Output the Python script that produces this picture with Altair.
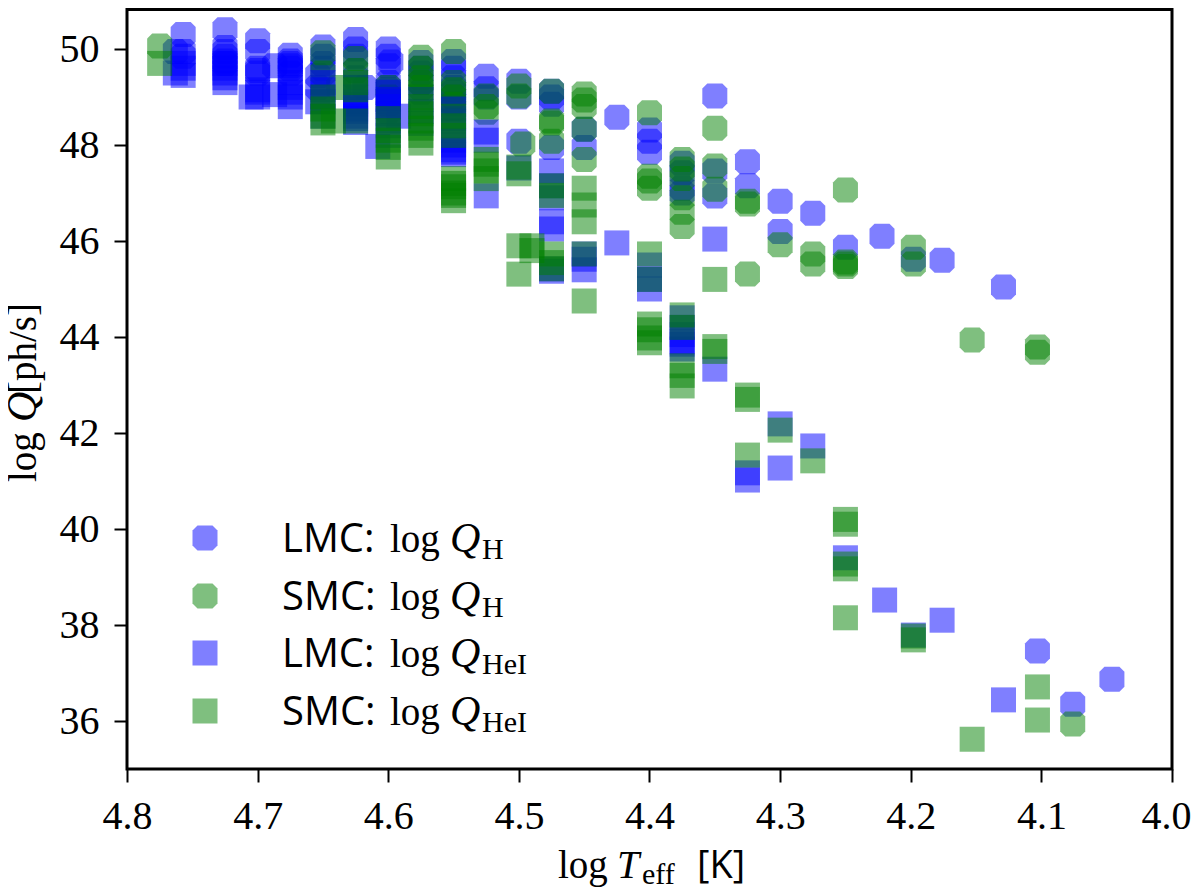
import altair as alt
import pandas as pd

# LMC log Q_H : (logT, logQ)
lmc_h_t = [4.757,4.757,4.757,4.763,4.725,4.725,4.725,4.725,4.725,4.725,4.70,4.70,4.70,4.70,4.70,4.675,4.675,4.675,4.675,4.675,4.675,4.687,
           4.65,4.65,4.65,4.65,4.654,4.654,4.625,4.625,4.625,4.625,4.625,4.618,4.60,4.60,4.598,4.60,4.60,4.60,4.60,4.60,4.60,
           4.575,4.575,4.575,4.575,4.575,4.55,4.55,4.55,4.55,4.55,4.55,4.55,4.525,4.525,4.525,4.50,4.50,4.50,
           4.475,4.475,4.475,4.475,4.45,4.45,4.425,4.40,4.40,4.40,4.375,4.375,4.375,4.375,
           4.35,4.35,4.35,4.325,4.325,4.30,4.30,4.275,4.25,4.222,4.198,4.176,4.129,4.103,4.076,4.046]
lmc_h_q = [50.3,49.85,49.95,49.95,50.4,50.03,49.85,49.7,49.95,49.75,50.17,49.95,49.55,49.5,49.6,49.87,49.75,49.65,49.5,49.7,49.6,49.65,
           50.04,49.85,49.7,49.6,49.45,49.2,50.2,50.0,49.85,49.55,49.4,49.2,50.0,49.85,49.73,49.2,49.0,48.85,49.65,49.3,49.15,
           49.72,49.5,49.3,49.6,49.1,49.74,49.4,49.2,49.1,48.9,49.6,49.0,49.43,49.17,49.0,49.33,49.0,48.08,
           49.12,49.0,48.85,47.95,48.33,47.95,48.58,48.31,48.08,47.85,47.62,47.42,47.1,47.0,
           49.02,47.46,46.94,47.65,47.15,46.83,46.2,46.58,45.87,46.1,45.62,45.6,45.04,37.46,36.35,36.87]

# SMC log Q_H
smc_h_t = [4.775,4.65,4.638,4.65,4.625,4.625,4.625,4.60,4.60,4.60,4.575,4.575,4.575,4.575,4.575,
           4.55,4.55,4.55,4.55,4.55,4.55,4.525,4.525,4.525,4.50,4.50,4.497,4.475,4.475,4.475,4.475,
           4.45,4.45,4.45,4.45,4.45,4.40,4.40,4.40,4.40,4.375,4.375,4.375,4.375,4.375,4.375,
           4.35,4.35,4.35,4.325,4.325,4.325,4.30,4.275,4.275,4.25,4.25,4.25,4.25,
           4.198,4.198,4.153,4.103,4.103,4.076]
smc_h_q = [50.06,49.92,49.2,49.5,49.8,49.55,49.2,49.2,49.0,48.7,49.83,49.6,49.4,49.3,49.2,
           49.95,49.3,49.15,49.0,48.85,48.75,49.02,48.8,48.68,49.23,49.02,48.02,49.12,48.5,48.46,48.08,
           49.06,48.94,48.8,48.33,47.7,48.67,47.35,47.25,47.1,47.7,47.5,47.3,46.9,46.6,46.3,
           48.35,47.56,47.08,46.83,46.77,45.31,45.92,45.73,45.52,47.06,45.56,45.52,45.47,
           45.87,45.52,43.94,43.79,43.68,35.94]

# LMC log Q_HeI
lmc_he_t = [4.763,4.757,4.757,4.757,4.725,4.725,4.725,4.725,4.725,4.70,4.705,4.70,4.70,4.675,4.675,4.675,4.675,4.675,4.687,4.654,4.65,4.65,4.65,4.65,4.65,
            4.625,4.625,4.625,4.625,4.625,4.625,4.625,4.625,4.625,4.60,4.60,4.60,4.60,4.60,4.60,4.60,4.60,4.592,4.608,4.575,4.575,4.575,
            4.55,4.55,4.55,4.55,4.55,4.55,4.55,4.55,4.55,4.525,4.525,4.525,4.50,
            4.475,4.475,4.475,4.475,4.475,4.475,4.475,4.45,4.45,4.45,4.425,
            4.40,4.40,4.40,4.375,4.375,4.375,4.375,4.375,4.375,4.35,4.35,4.325,4.325,
            4.30,4.30,4.275,4.25,4.22,4.198,4.176,4.129]
lmc_he_q = [49.5,49.45,49.6,49.7,49.6,49.4,49.3,49.5,49.7,49.1,49.0,49.0,49.15,49.2,49.0,48.8,49.3,49.1,49.05,48.9,49.0,48.6,49.3,49.15,48.9,
            49.0,48.85,48.7,48.47,49.2,48.9,48.75,48.6,48.55,48.95,48.5,48.2,49.1,48.9,48.8,48.65,48.4,48.6,47.97,48.95,48.7,48.45,
            48.75,48.55,48.3,48.1,47.9,47.8,48.5,48.0,47.85,48.27,48.1,46.94,47.52,
            47.46,47.15,46.9,46.4,46.25,45.42,45.37,45.73,45.62,45.4,45.96,
            45.5,45.2,45.0,44.4,44.2,44.05,43.9,43.85,43.75,46.04,43.33,41.17,41.02,
            42.19,41.27,41.73,39.4,38.52,37.79,38.1,36.44]

# SMC log Q_HeI
smc_he_t = [4.775,4.65,4.65,4.65,4.65,4.642,4.625,4.625,4.625,4.60,4.60,4.60,4.60,4.60,
            4.575,4.575,4.575,4.575,4.575,4.575,4.575,4.55,4.55,4.55,4.55,4.55,4.55,4.55,4.55,4.55,
            4.525,4.525,4.525,4.525,4.50,4.50,4.50,4.50,4.49,4.49,
            4.475,4.475,4.475,4.475,4.475,4.45,4.45,4.45,4.45,4.45,
            4.40,4.40,4.40,4.40,4.40,4.40,4.375,4.375,4.375,4.375,4.375,
            4.35,4.35,4.35,4.325,4.325,4.325,4.30,4.275,4.25,4.25,4.25,4.25,4.25,
            4.198,4.198,4.153,4.103,4.103]
smc_he_q = [49.7,49.0,48.75,48.6,48.46,48.5,49.3,49.15,48.5,48.55,48.3,48.1,47.95,47.75,
            49.0,48.8,48.65,48.5,48.35,48.2,48.04,48.6,48.4,48.2,47.3,47.13,47.0,46.84,46.95,47.2,
            47.7,47.6,47.46,47.3,47.54,47.4,45.9,45.31,45.9,45.8,
            47.15,46.95,45.73,45.55,45.42,47.1,46.75,46.4,45.73,44.75,
            45.73,45.2,44.27,44.15,43.98,43.88,44.46,44.2,43.4,43.2,42.98,
            45.2,43.8,43.7,42.79,42.7,41.54,42.06,41.42,40.2,40.1,39.27,39.17,38.15,
            37.77,37.69,35.62,36.71,36.02]

x_ticks = [4.8, 4.7, 4.6, 4.5, 4.4, 4.3, 4.2, 4.1, 4.0]
y_ticks = [36, 38, 40, 42, 44, 46, 48, 50]

BLUE = "#0000ff"
GREEN = "#008000"
OCT = "M-0.6,-1 L0.6,-1 L1,-0.6 L1,0.6 L0.6,1 L-0.6,1 L-1,0.6 L-1,-0.6 Z"
SERIF = "Liberation Serif"
SANS = "Open Sans"
LEFT, TOP = 127, 1

x_enc = alt.X("t:Q", scale=alt.Scale(domain=[4.8, 4.0], nice=False, zero=False),
              axis=alt.Axis(values=x_ticks, format=".1f", title=None, grid=False, domain=False,
                            labelFlush=False, labelOverlap=False, labelPadding=14,
                            labelOffset={"condition": {"test": "datum.value === 4", "value": -6}, "value": 0}))
y_enc = alt.Y("q:Q", scale=alt.Scale(domain=[35, 51], nice=False, zero=False),
              axis=alt.Axis(values=y_ticks, format="d", title=None, grid=False, domain=False,
                            labelOverlap=False, labelPadding=15))


def series(ts, qs, color, shape):
    df = pd.DataFrame({"t": ts, "q": qs})
    return alt.Chart(df).mark_point(shape=shape, filled=True, size=625, opacity=0.5,
                                    color=color, strokeWidth=0).encode(x=x_enc, y=y_enc)


one = pd.DataFrame({"a": [0]})


def word(text, x, y, font=SERIF, size=39, style="normal", angle=0, align="left"):
    return alt.Chart(one).mark_text(text=text, font=font, fontSize=size, fontStyle=style, angle=angle,
                                    align=align, baseline="alphabetic", color="black").encode(
        x=alt.value(x - LEFT), y=alt.value(y - TOP))


def key(y, color, shape):
    return alt.Chart(one).mark_point(shape=shape, filled=True, size=625, opacity=0.5, color=color,
                                     strokeWidth=0).encode(x=alt.value(205 - LEFT), y=alt.value(y - TOP))


layers = [
    series(lmc_h_t, lmc_h_q, BLUE, OCT),
    series(smc_h_t, smc_h_q, GREEN, OCT),
    series(lmc_he_t, lmc_he_q, BLUE, "square"),
    series(smc_he_t, smc_he_q, GREEN, "square"),
    # top edge of the frame: the page margin hides the real one
    alt.Chart(one).mark_rule(color="black", strokeWidth=3).encode(
        x=alt.value(0), x2=alt.value(1045), y=alt.value(8.5)),
]

legend_rows = [
    (538, BLUE, OCT, "LMC:", "H"),
    (596, GREEN, OCT, "SMC:", "H"),
    (653, BLUE, "square", "LMC:", "HeI"),
    (711, GREEN, "square", "SMC:", "HeI"),
]
for y, c, s, name, sub in legend_rows:
    base = y + 14
    layers += [key(y, c, s), word(name, 282, base, font=SANS, size=40),
               word("log", 390, base), word("Q", 450, base, style="italic", size=42),
               word(sub, 482, base + 7, size=30)]

layers += [
    word("log", 558, 878), word("T", 617, 878, style="italic", size=40), word("eff", 642, 884, size=30),
    word("[K]", 697, 878, font=SANS, size=38),
    word("log", 36, 482, angle=270), word("Q", 36, 422, style="italic", angle=270, size=42),
    word("[ph/s]", 36, 394, angle=270),
]

chart = alt.layer(*layers).properties(
    width=1045, height=768,
    autosize=alt.AutoSizeParams(type="none"),
    padding={"left": 119, "top": -7, "right": 20, "bottom": 120},
).configure_view(stroke="black", strokeWidth=3, fill="white").configure_axis(
    labelFont=SERIF, labelFontSize=40, labelColor="black",
    tickColor="black", tickSize=13, tickWidth=2,
)

chart.save("out.html", embed_options={"renderer": "svg", "actions": False})
